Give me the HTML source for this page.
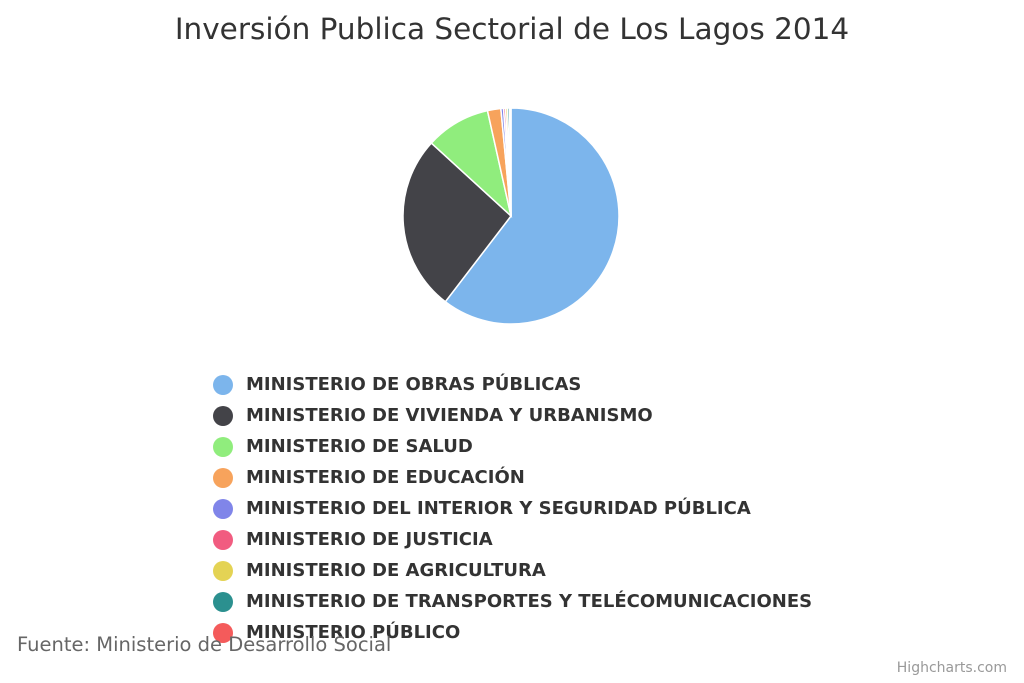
<!DOCTYPE html>
<html><head><meta charset="utf-8"><style>
body{margin:0;width:1024px;height:683px;background:#fff;font-family:"DejaVu Sans","Liberation Sans",sans-serif;overflow:hidden;position:relative}
.t{position:absolute;left:0;width:1024px;top:12px;text-align:center;font-size:29.5px;color:#333}
.lg{position:absolute;left:213px;display:flex;align-items:center;font-size:18px;font-weight:bold;color:#333;height:31px;white-space:nowrap}
.lg i{width:20px;height:20px;border-radius:50%;display:inline-block;margin-right:13px}
</style></head><body>
<div class="t">Inversión Publica Sectorial de Los Lagos 2014</div>
<svg id="pie" width="1024" height="683" style="position:absolute;left:0;top:0"></svg>
<div id="legend"></div>
<div style="position:absolute;left:17px;top:633px;font-size:19.5px;color:#666">Fuente: Ministerio de Desarrollo Social</div>
<div style="position:absolute;right:17px;top:660px;font-size:14px;color:#999">Highcharts.com</div>
<script>
const categories=["MINISTERIO DE OBRAS PÚBLICAS","MINISTERIO DE VIVIENDA Y URBANISMO","MINISTERIO DE SALUD","MINISTERIO DE EDUCACIÓN","MINISTERIO DEL INTERIOR Y SEGURIDAD PÚBLICA","MINISTERIO DE JUSTICIA","MINISTERIO DE AGRICULTURA","MINISTERIO DE TRANSPORTES Y TELÉCOMUNICACIONES","MINISTERIO PÚBLICO"];
const values=[60.4,26.4,9.7,2.0,0.4,0.3,0.3,0.3,0.2];
const colors=["#7cb5ec","#434348","#90ed7d","#f7a35c","#8085e9","#f15c80","#e4d354","#2b908f","#f45b5b"];
const svg=document.getElementById('pie');const NS="http://www.w3.org/2000/svg";
const cx=511,cy=216,r=108;const total=values.reduce((a,b)=>a+b,0);
let a0=0;
values.forEach((v,i)=>{const a1=a0+v/total*2*Math.PI;
const p=(a)=>[cx+r*Math.sin(a),cy-r*Math.cos(a)];const [x0,y0]=p(a0),[x1,y1]=p(a1);
const path=document.createElementNS(NS,'path');
path.setAttribute('d',`M${cx},${cy}L${x0},${y0}A${r},${r} 0 ${a1-a0>Math.PI?1:0} 1 ${x1},${y1}Z`);
path.setAttribute('fill',colors[i]);path.setAttribute('stroke','#fff');path.setAttribute('stroke-width','1.5');


svg.appendChild(path);a0=a1;});
const lg=document.getElementById('legend');
categories.forEach((c,i)=>{const d=document.createElement('div');d.className='lg';d.style.top=(369+i*31)+'px';
d.innerHTML=`<i style="background:${colors[i]}"></i>${c}`;


lg.appendChild(d);});
</script>
</body></html>
